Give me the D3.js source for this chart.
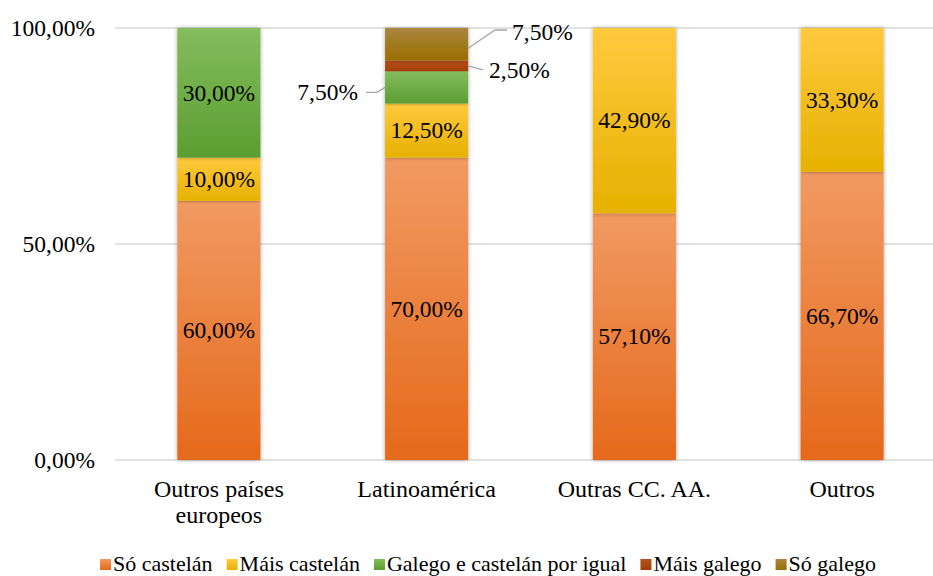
<!DOCTYPE html>
<html>
<head>
<meta charset="utf-8">
<script src="https://cdn.jsdelivr.net/npm/d3@7"></script>
<style>
  body { margin: 0; background: #fff; }
</style>
</head>
<body>
<script>
// categories and series (percent)
const categories = ["Outros países europeos", "Latinoamérica", "Outras CC. AA.", "Outros"];
const seriesNames = ["Só castelán", "Máis castelán", "Galego e castelán por igual", "Máis galego", "Só galego"];
const soCastelan   = [60.0, 70.0, 57.1, 66.7];
const maisCastelan = [10.0, 12.5, 42.9, 33.3];
const galegoIgual  = [30.0, 7.5, 0, 0];
const maisGalego   = [0, 2.5, 0, 0];
const soGalego     = [0, 7.5, 0, 0];
const yTicks = [0, 50, 100];

// gradient colours top -> bottom
const colours = [
  ["#f19a62", "#e5691b"],
  ["#ffc93f", "#e6b100"],
  ["#84bd5c", "#5b9d31"],
  ["#b5521f", "#a23d05"],
  ["#aa8640", "#9a6d00"]
];

const W = 933, H = 576;
const svg = d3.select("body").append("svg").attr("width", W).attr("height", H);
const fmt = v => v.toFixed(2).replace(".", ",") + "%";
// every text gets the serif font
const txt = (sel, size) => sel.append("text")
  .attr("font-family", "Liberation Serif")
  .style("font-family", "Liberation Serif", "important")
  .attr("font-size", size).attr("fill", "#000");

const x = d3.scaleBand().domain(categories).range([115, 946]).paddingInner(0.6).paddingOuter(0.3);
const y = d3.scaleLinear().domain([0, 100]).range([460, 28]);

const defs = svg.append("defs");
colours.forEach((c, i) => {
  const g = defs.append("linearGradient").attr("id", "g" + i)
    .attr("x1", 0).attr("y1", 0).attr("x2", 0).attr("y2", 1);
  g.append("stop").attr("offset", "0%").attr("stop-color", c[0]);
  g.append("stop").attr("offset", "100%").attr("stop-color", c[1]);
});
const f = defs.append("filter").attr("id", "shadow")
  .attr("x", "-20%").attr("y", "-5%").attr("width", "140%").attr("height", "110%");
f.append("feDropShadow").attr("dx", 0).attr("dy", 0).attr("stdDeviation", 2.2)
  .attr("flood-color", "#000").attr("flood-opacity", 0.35);

// gridlines
svg.append("g").selectAll("line").data(yTicks).join("line")
  .attr("x1", 115).attr("x2", W)
  .attr("y1", d => y(d)).attr("y2", d => y(d))
  .attr("stroke", "#d9d9d9").attr("stroke-width", 1.5);

// y axis labels
const yAxisG = svg.append("g");
yTicks.forEach(t => {
  txt(yAxisG, 23.5).attr("x", 95).attr("y", y(t)).attr("dy", "0.33em")
    .attr("text-anchor", "end").text(fmt(t));
});

// stack
const table = categories.map((c, i) => ({
  cat: c,
  s0: soCastelan[i], s1: maisCastelan[i], s2: galegoIgual[i], s3: maisGalego[i], s4: soGalego[i]
}));
const stack = d3.stack().keys(["s0", "s1", "s2", "s3", "s4"])(table);

const bars = svg.append("g");
stack.forEach((layer, i) => {
  bars.selectAll(".seg" + i).data(layer.filter(d => d[1] > d[0])).join("rect")
    .attr("x", d => x(d.data.cat))
    .attr("width", x.bandwidth())
    .attr("y", d => y(d[1]))
    .attr("height", d => y(d[0]) - y(d[1]))
    .attr("fill", `url(#g${i})`)
    .attr("filter", "url(#shadow)");
});

// data labels
const labels = svg.append("g");
stack.forEach((layer, i) => {
  layer.forEach(d => {
    const v = d[1] - d[0];
    if (v < 10) return;
    const cx = x(d.data.cat) + x.bandwidth() / 2;
    const cy = y((d[0] + d[1]) / 2);
    txt(labels, 23.5).attr("x", cx).attr("y", cy).attr("dy", "0.33em")
      .attr("text-anchor", "middle").text(fmt(v));
  });
});

// small Latinoamérica labels with leader lines
const lat = categories[1];
const left = x(lat), right = x(lat) + x.bandwidth();
const lead = (pts) => svg.append("path").attr("d", d3.line()(pts))
  .attr("fill", "none").attr("stroke", "#a6a6a6").attr("stroke-width", 1.3);
const gIdx = stack[2].find(d => d.data.cat === lat);
const mgIdx = stack[3].find(d => d.data.cat === lat);
const sgIdx = stack[4].find(d => d.data.cat === lat);
const gy = y((gIdx[0] + gIdx[1]) / 2);
lead([[366, gy + 5], [377, gy + 5], [left, gy]]);
txt(labels, 23.5).attr("x", 358).attr("y", gy + 5).attr("dy", "0.33em")
  .attr("text-anchor", "end").text(fmt(galegoIgual[1]));
const my = y((mgIdx[0] + mgIdx[1]) / 2);
lead([[right, my], [483, my + 4]]);
txt(labels, 23.5).attr("x", 489).attr("y", my + 4).attr("dy", "0.33em")
  .text(fmt(maisGalego[1]));
const sy = y((sgIdx[0] + sgIdx[1]) / 2);
lead([[right, sy + 4], [495, y(100) + 2], [507, y(100) + 2]]);
txt(labels, 23.5).attr("x", 512).attr("y", y(100) + 4).attr("dy", "0.33em")
  .text(fmt(soGalego[1]));

// category labels
const catLines = { "Outros países europeos": ["Outros países", "europeos"] };
const catG = svg.append("g");
categories.forEach(c => {
  const cx = x(c) + x.bandwidth() / 2;
  const t = txt(catG, 24).attr("x", cx).attr("y", 497).attr("text-anchor", "middle");
  (catLines[c] || [c]).forEach((l, i) => {
    t.append("tspan").attr("x", cx).attr("dy", i === 0 ? 0 : 26).text(l);
  });
});

// legend
const legend = svg.append("g");
let lx = 0;
seriesNames.forEach((n, i) => {
  const g = legend.append("g");
  g.append("rect").attr("width", 11).attr("height", 11).attr("y", -12)
    .attr("fill", `url(#g${i})`);
  const t = txt(g, 22).attr("x", 13).attr("y", 0).text(n);
  const w = 13 + t.node().getComputedTextLength();
  g.attr("transform", `translate(${lx},0)`);
  lx += w + 14;
});
const total = lx - 14;
legend.attr("transform", `translate(${488 - total / 2},571)`);
</script>
</body>
</html>
